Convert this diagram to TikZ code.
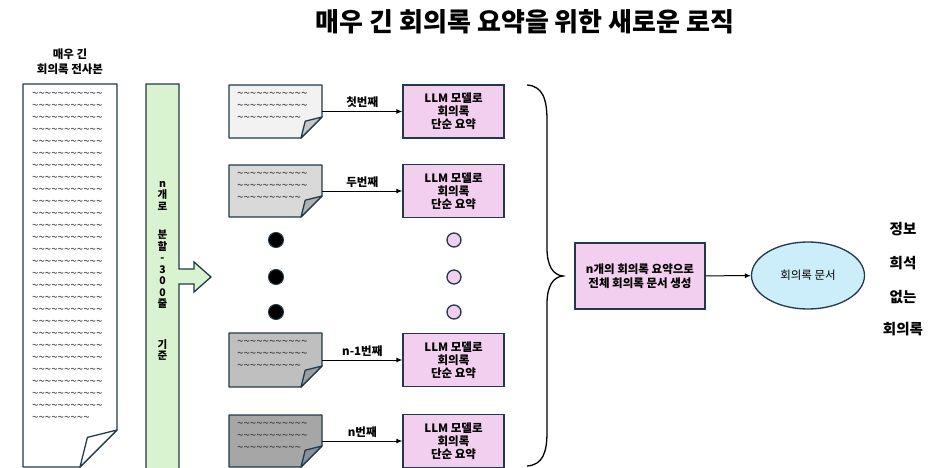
\documentclass[tikz,border=0pt]{standalone}
\usepackage{fontspec}
\setmainfont{Noto Sans CJK KR}
\usetikzlibrary{arrows.meta,shapes.geometric}

\definecolor{inkc}{HTML}{203A4A}
\definecolor{splitgreen}{HTML}{D9F2D0}
\definecolor{sumpink}{HTML}{F2CFEE}
\definecolor{docblue}{HTML}{CCEEFB}
\definecolor{docA}{HTML}{F2F2F2}
\definecolor{docB}{HTML}{D9D9D9}
\definecolor{docC}{HTML}{BFBFBF}
\definecolor{docD}{HTML}{A6A6A6}
\definecolor{foldA}{HTML}{C8C8C8}
\definecolor{foldB}{HTML}{B0B0B0}
\definecolor{foldC}{HTML}{9A9FA3}
\definecolor{foldD}{HTML}{8A9299}
\definecolor{tildec}{HTML}{333333}

% sheet with a turned-down corner: left, top, right, bottom, corner, fill, fold fill
\newcommand\paperdoc[7]{%
  \draw[ink, fill=#6, line join=round] (#1,#2) -- (#3,#2) -- (#3,#4-#5) -- (#3-#5,#4) -- (#1,#4) -- cycle;
  \draw[ink, fill=#7, line join=round] (#3,#4-#5) -- (#3-0.8*#5,#4-0.8*#5) -- (#3-#5,#4) -- cycle;
}
\newcommand\tilderow[1]{\foreach \k in {1,...,#1}{\textasciitilde}}

\begin{document}
\begin{tikzpicture}[x=1pt,y=-1pt,
  ink/.style={draw=inkc, line width=1.3pt},
  tildes/.style={anchor=west, inner sep=0pt, text=tildec, font=\fontsize{11.5}{11.5}\selectfont},
  sumbox/.style={ink, fill=sumpink, minimum width=101pt, minimum height=53pt, inner sep=0pt, align=center, font=\fontsize{11.5}{13}\selectfont\bfseries},
  docarea/.style={minimum width=93pt, minimum height=53pt, inner sep=0pt},
  flow/.style={-{Latex[length=6pt,width=5pt]}, line width=1pt},
  steplabel/.style={above, inner sep=3pt, font=\fontsize{11.5}{13}\selectfont\bfseries},
  sidetext/.style={font=\fontsize{14.5}{16}\selectfont\bfseries},
]
\useasboundingbox (0,0) rectangle (940,468);

\node[font=\fontsize{26}{30}\selectfont\bfseries] (title) at (525,22) {매우 긴 회의록 요약을 위한 새로운 로직};

% the long transcript
\node[align=center, font=\fontsize{11.5}{15}\selectfont\bfseries] (srclabel) at (70,62) {매우 긴\\회의록 전사본};
\paperdoc{23}{84}{117}{467}{37}{white}{white}
\foreach \k in {0,...,26}
  \node[tildes] at (32,95+12*\k) {\tilderow{11}};
\node[tildes] at (32,419) {\tilderow{9}};

% split bar
\draw[ink, fill=splitgreen, line join=miter] (146,84) -- (179,84) -- (179,269) -- (194,269) -- (194,262)
  -- (211,277) -- (194,292) -- (194,284) -- (179,284) -- (179,472) -- (146,472) -- cycle;
\node[align=center, inner sep=0pt, font=\fontsize{10.5}{11.5}\selectfont\bfseries] (splitlabel) at (162.5,271)
  {n\\개\\로\\[17pt]분\\할\\-\\3\\0\\0\\줄\\[29pt]기\\준};

% the n pieces
\paperdoc{229}{85}{322}{138}{21}{docA}{foldA}
\paperdoc{229}{165}{322}{217}{21}{docB}{foldB}
\paperdoc{229}{333}{322}{387}{21}{docC}{foldC}
\paperdoc{229}{415}{322}{467}{21}{docD}{foldD}
\foreach \t in {85,165,333,415} {
  \node[tildes] at (237,\t+10) {\tilderow{11}};
  \node[tildes] at (237,\t+22) {\tilderow{11}};
  \node[tildes] at (237,\t+34) {\tilderow{10}};
}
\node[docarea] (d1) at (275.5,111.5) {};
\node[docarea] (d2) at (275.5,191) {};
\node[docarea] (d3) at (275.5,360) {};
\node[docarea] (d4) at (275.5,441) {};

\node[sumbox] (s1) at (453.5,111.5) {LLM 모델로\\회의록\\단순 요약};
\node[sumbox] (s2) at (453.5,191) {LLM 모델로\\회의록\\단순 요약};
\node[sumbox] (s3) at (453.5,360) {LLM 모델로\\회의록\\단순 요약};
\node[sumbox] (s4) at (453.5,441) {LLM 모델로\\회의록\\단순 요약};

\draw[flow] (d1) -- node[steplabel] {첫번째} (s1);
\draw[flow] (d2) -- node[steplabel] {두번째} (s2);
\draw[flow] (d3) -- node[steplabel] {n-1번째} (s3);
\draw[flow] (d4) -- node[steplabel] {n번째} (s4);

\foreach \y in {240,277,312} {
  \draw[draw=inkc, line width=1pt, fill=black] (276,\y) circle (7.5);
  \draw[ink, fill=sumpink] (454,\y) circle (7);
}

% brace over all summaries
\draw[line width=1.3pt, black] (527,85) .. controls (543,86) and (547,100) .. (547,120) -- (547,248)
  .. controls (547,266) and (553,275) .. (563,276) .. controls (553,277) and (547,286) .. (547,304)
  -- (547,432) .. controls (547,452) and (543,465) .. (527,466);

\node[ink, fill=sumpink, minimum width=130pt, minimum height=66pt, inner sep=0pt, align=center,
  font=\fontsize{11.5}{13.5}\selectfont\bfseries] (merge) at (640,276) {n개의 회의록 요약으로\\전체 회의록 문서 생성};
\node[ellipse, ink, fill=docblue, minimum width=113pt, minimum height=67pt, inner sep=0pt,
  font=\fontsize{11.5}{13}\selectfont] (minutes) at (808,275.5) {회의록 문서};
\draw[flow] (merge) -- (minutes);

\node[sidetext] (w1) at (903,229) {정보};
\node[sidetext] (w2) at (903,263) {희석};
\node[sidetext] (w3) at (903,297) {없는};
\node[sidetext] (w4) at (903,329) {회의록};
\end{tikzpicture}
\end{document}
